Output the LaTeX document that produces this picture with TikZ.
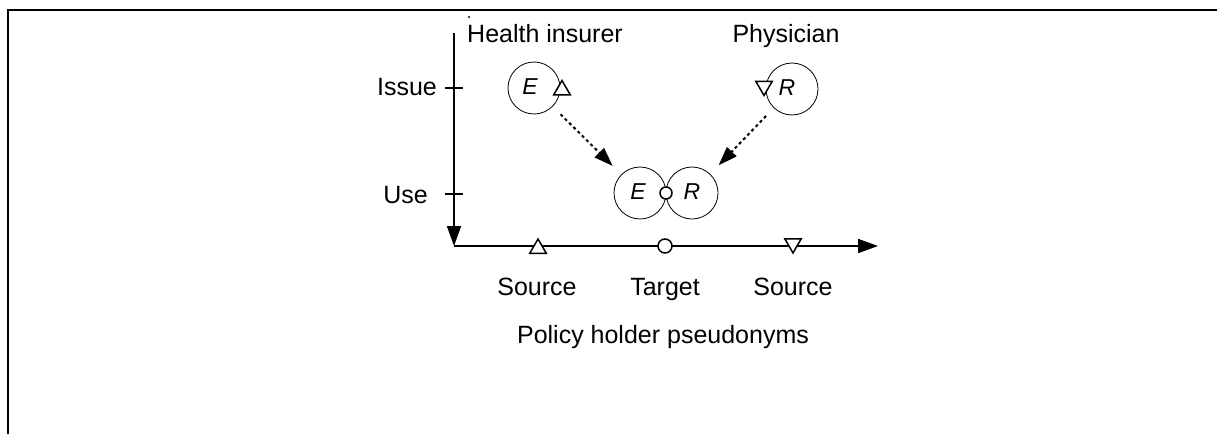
\documentclass[tikz,border=0pt]{standalone}
\usepackage{fontspec}
\setmainfont{Liberation Sans}
\usetikzlibrary{shapes.geometric,arrows.meta}
\begin{document}
\begin{tikzpicture}[x=1pt,y=-1pt,
  frame/.style={line width=2.6pt},
  axis/.style={line width=1.8pt},
  tick/.style={line width=1.4pt},
  lbl/.style={inner sep=0pt,font=\fontsize{25}{29}\selectfont},
  var/.style={inner sep=0pt,font=\fontsize{23}{27}\selectfont\itshape},
  ring/.style={circle,draw,line width=0.8pt,minimum size=52pt,inner sep=0pt},
  uptri/.style={regular polygon,regular polygon sides=3,draw,fill=white,
    line width=1.5pt,minimum size=19pt,inner sep=0pt},
  dntri/.style={uptri,shape border rotate=180},
  tgt/.style={circle,draw,fill=white,line width=1.5pt,minimum size=12pt,inner sep=0pt},
  flow/.style={line width=2pt,dash pattern=on 3pt off 3pt,
    -{Triangle[length=19pt,width=13pt]},shorten <=11pt,shorten >=12pt},
  axarrow/.style={axis,-{Triangle[length=20pt,width=14pt]}}]
\useasboundingbox (0,0) rectangle (1217,434);

% outer frame (top and left edges)
\draw[frame] (8,434) -- (8,10) -- (1217,10);

% axes
\coordinate (ytop) at (454,33);
\coordinate (O) at (454,246);
\coordinate (xend) at (878,246);
\draw[axarrow] (ytop) -- (O);
\draw[axarrow] (O) -- (xend);
\fill (469,17) circle (1.2pt);

% ticks on the vertical axis
\coordinate (issueL) at (445,88);
\coordinate (issueR) at (463,88);
\coordinate (useL) at (445,194);
\coordinate (useR) at (463,194);
\draw[tick] (issueL) -- (issueR);
\draw[tick] (useL) -- (useR);
\node[lbl,anchor=base east] (issue) at (437,95) {Issue};
\node[lbl,anchor=base east] (use) at (428,203) {Use};

% pseudonym markers on the horizontal axis
\node[uptri] (srcA) at (538,248.5) {};
\node[tgt,minimum size=14pt] (tgtP) at (665,246) {};
\node[dntri] (srcB) at (793,243.5) {};
\node[lbl,anchor=base] (srcAl) at (537,295) {Source};
\node[lbl,anchor=base] (tgtl) at (665,295) {Target};
\node[lbl,anchor=base] (srcBl) at (793,295) {Source};
\node[lbl,anchor=base] (xlabel) at (663,343) {Policy holder pseudonyms};

% parties
\node[lbl,anchor=base west] (insurer) at (467,42) {Health insurer};
\node[lbl,anchor=base] (physician) at (786,42) {Physician};

% issued pseudonyms
\node[ring] (E1) at (534,88) {};
\node[var] at (530,87) {E};
\node[uptri] (E1t) at (562,90) {};
\node[ring] (R1) at (792,89) {};
\node[var] at (787,88) {R};
\node[dntri] (R1t) at (764,86) {};

% combined pseudonym in use: two touching rings joined by the target mark
\node[ring] (EL) at (640,193) {};
\node[ring] (ER) at (692,193) {};
\node[tgt] (EC) at (666,193) {};
\node[var] at (638,192) {E};
\node[var] at (692,192) {R};

% flows from issue to use
\draw[flow] (E1) -- (EL);
\draw[flow] (R1) -- (ER);
\end{tikzpicture}
\end{document}
